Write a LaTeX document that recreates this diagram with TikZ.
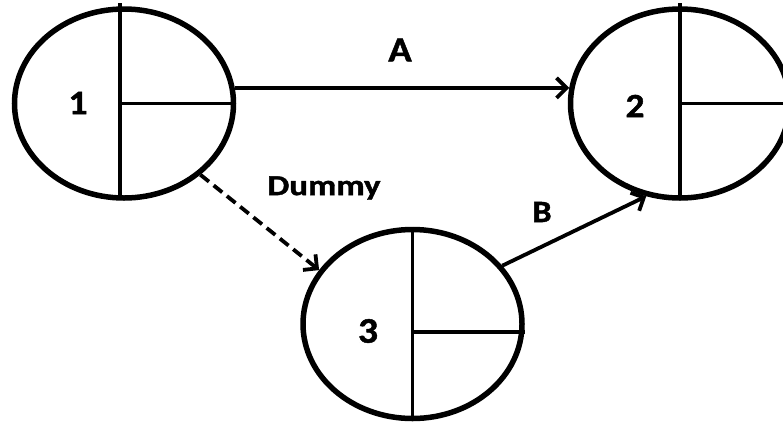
\documentclass[tikz,border=0pt]{standalone}
\usepackage{graphicx}
\usepackage{fontspec}
\setmainfont{Carlito}
\newfontfamily\heavy{Carlito}[UprightFont={* Bold},FakeBold=1.3]
\usetikzlibrary{shapes.geometric,arrows.meta}
\newcommand{\wid}[2]{\scalebox{#1}[1]{#2}}
\begin{document}
\begin{tikzpicture}[x=1pt,y=-1pt,
  evnode/.style={draw,ellipse,line width=5.5pt,minimum width=219pt,minimum height=189pt,inner sep=0pt},
  inner/.style={line width=3.8pt},
  conn/.style={line width=3.8pt,-{Straight Barb[length=10pt,width=20pt,line width=3.8pt]}},
  txt/.style={inner sep=0pt},
  numlbl/.style={txt,font=\heavy\fontsize{34}{40}\selectfont}]
\useasboundingbox (0,0) rectangle (783,421);
\node[evnode] (n1) at (124,103.5) {};
\node[evnode] (n2) at (680,103.5) {};
\node[evnode] (n3) at (412.5,324) {};
% inner dividers
\draw[inner] ([xshift=-4pt,yshift=3pt]n1.north) -- ([xshift=-4pt,yshift=4pt]n1.south);
\draw[inner] ([xshift=-4pt]n1.center) -- (n1.east);
\draw[inner] ([yshift=3pt]n2.north) -- ([yshift=3pt]n2.south);
\draw[inner] (n2.center) -- (n2.east);
\draw[inner] (n3.north) -- (n3.south);
\draw[inner] ([yshift=-8pt]n3.center) -- ([yshift=-8pt]n3.east);
% numbers
\node[numlbl] (t1) at (78,103) {\wid{1.1}{1}};
\node[numlbl] (t2) at (635,106) {\wid{1.1}{2}};
\node[numlbl,font=\heavy\fontsize{36}{42}\selectfont] (t3) at (368,331) {\wid{1.1}{3}};
% connectors
\draw[conn] (n1.8) -- (n2.172);
\draw[conn,dash pattern=on 11pt off 6pt] (n1.-43) -- (n3.150);
\draw[conn] (n3.33) -- (n2.250);
% labels
\node[txt,font=\heavy\fontsize{35}{42}\selectfont] (la) at (400,50) {\wid{1.1}{A}};
\node[txt,font=\heavy\fontsize{29}{35}\selectfont] (ld) at (324,188) {\wid{1.2}{Dummy}};
\node[txt,font=\heavy\fontsize{31}{37}\selectfont] (lb) at (542,212) {\wid{1.1}{B}};
\end{tikzpicture}
\end{document}
